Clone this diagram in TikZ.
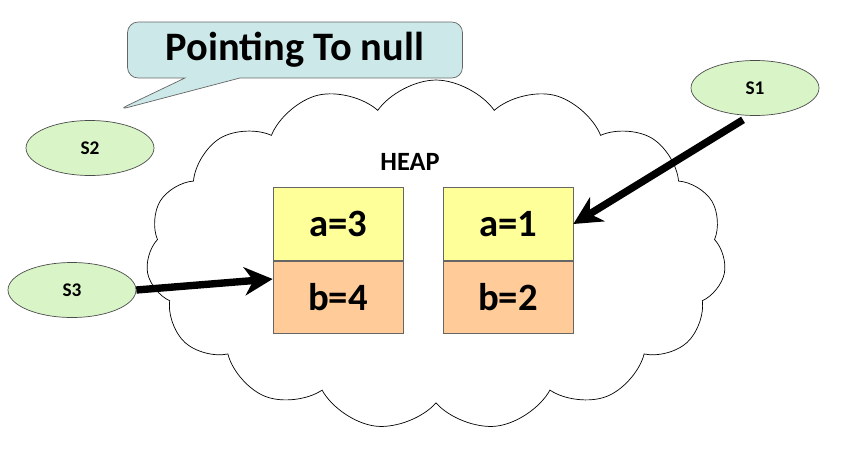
\documentclass[tikz,border=0pt]{standalone}
\usepackage{fontspec}
\setmainfont{Carlito}
\usetikzlibrary{shapes.symbols,shapes.geometric,shapes.callouts,arrows.meta}
\definecolor{calloutfill}{HTML}{CCE8E8}
\definecolor{ovalfill}{HTML}{D9F5C8}
\definecolor{topfill}{HTML}{FFFF99}
\definecolor{botfill}{HTML}{FFCC99}
\tikzset{
    var/.style={ellipse,draw=black!70,fill=ovalfill,minimum width=2.56cm,minimum height=1.1cm,font=\bfseries\fontsize{11}{13}\selectfont},
    field/.style={draw=black!60,minimum width=2.6cm,minimum height=1.45cm,font=\bfseries\fontsize{22}{26}\selectfont},
    ref/.style={line width=4.2pt,-{Stealth[length=16pt,width=16pt,inset=5pt]}}
}
\begin{document}
\begin{tikzpicture}[x=0.02cm,y=-0.02cm]
    \useasboundingbox (0,0) rectangle (841,450);
    \node (heapcloud) [cloud,draw,fill=white,cloud puffs=15,cloud puff arc=110,aspect=1.7,minimum width=11.6cm,minimum height=7.0cm,inner sep=0pt] at (436,255) {};
    \node (note) [rectangle callout,rounded corners=6pt,draw=black!60,fill=calloutfill,minimum width=6.7cm,minimum height=1.12cm,callout pointer width=1.1cm,callout absolute pointer={(118,110)},font=\bfseries\fontsize{23}{27}\selectfont] at (295,50) {Pointing To null};
    \node (heaplabel) [font=\bfseries\fontsize{15}{17}\selectfont] at (410,162) {HEAP};
    % left object
    \node (a3) [field,fill=topfill] at (338,224) {a=3};
    \node (b4) [field,fill=botfill,anchor=north] at (a3.south) {b=4};
    % right object
    \node (a1) [field,fill=topfill] at (508,224) {a=1};
    \node (b2) [field,fill=botfill,anchor=north] at (a1.south) {b=2};
    % stack variables
    \node (s1) [var] at (755,88) {S1};
    \node (s2) [var] at (90,148) {S2};
    \node (s3) [var] at (72,290) {S3};
    \draw [ref] (s1.south) ++(-12,4) coordinate (s1tail) -- (a1.east);
    \draw [ref] (s3.east) -- (b4.west |- 0,279);
\end{tikzpicture}
\end{document}
